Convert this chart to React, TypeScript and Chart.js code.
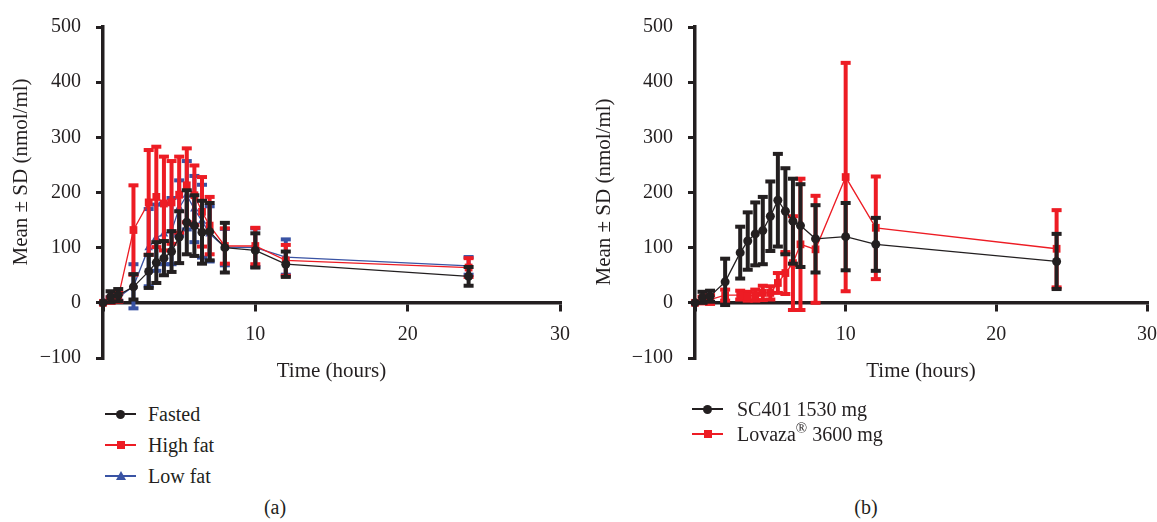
import React, { useEffect, useRef } from "react";
import { Chart, registerables } from "chart.js";

Chart.register(...registerables);

// ---------- data ----------
const TIMES = [0, 0.5, 1, 2, 3, 3.5, 4, 4.5, 5, 5.5, 6, 6.5, 7, 8, 10, 12, 24];

// panel (a)
const FASTED_MEAN = [0, 11, 14, 29, 57, 73, 81, 93, 119, 146, 140, 128, 129, 100, 95, 70, 48];
const FASTED_SD = [0, 10, 11, 23, 30, 37, 31, 37, 47, 58, 55, 57, 52, 45, 31, 23, 17];
const HIGHFAT_MEAN = [0, 5, 10, 132, 182, 192, 180, 182, 196, 213, 195, 165, 140, 103, 103, 77, 64];
const HIGHFAT_SD = [0, 5, 8, 81, 95, 91, 85, 75, 69, 67, 54, 63, 52, 32, 33, 28, 17];
const LOWFAT_MEAN = [0, 6, 10, 30, 100, 118, 125, 130, 172, 195, 170, 148, 125, 101, 100, 83, 67];
const LOWFAT_SD = [0, 4, 6, 40, 70, 60, 55, 60, 50, 62, 60, 66, 50, 33, 35, 32, 16];

// panel (b)
const SC401_MEAN = [0, 10, 12, 38, 91, 112, 125, 131, 157, 186, 166, 148, 140, 116, 120, 106, 75];
const SC401_SD = [0, 10, 10, 42, 47, 52, 57, 61, 63, 84, 78, 77, 75, 61, 61, 48, 50];
const LOVAZA_MEAN = [0, 5, 6, 14, 14, 12, 14, 18, 18, 36, 54, 72, 106, 97, 228, 136, 98];
const LOVAZA_SD = [0, 6, 8, 10, 8, 8, 10, 13, 12, 18, 38, 85, 119, 97, 207, 93, 70];

const SERIES_A = ["Fasted", "High fat", "Low fat"];
const SERIES_B = ["SC401 1530 mg", "Lovaza\u00AE 3600 mg"];

const X_MIN = 0;
const X_MAX = 30;
const X_STEP = 10;
const Y_MIN = -100;
const Y_MAX = 500;
const Y_STEP = 100;

const X_TITLE = "Time (hours)";
const Y_TITLE = "Mean \u00B1 SD (nmol/ml)";

// ---------- styles ----------
const FONT = '"Liberation Serif", "Times New Roman", serif';
const BLACK = "#231f20";
const RED = "#ed1c24";
const BLUE = "#3953a4";

const pts = (xs: number[], ys: number[]) => xs.map((x, i) => ({ x, y: ys[i] }));

const errorBarPlugin = {
  id: "errorBars",
  beforeDatasetDraw(chart: any, args: any) {
    const ds = chart.data.datasets[args.index];
    const sd: number[] | undefined = ds.sd;
    if (!sd) return;
    const yScale = chart.scales.y;
    const ctx = chart.ctx;
    ctx.save();
    ctx.strokeStyle = ds.borderColor;
    ctx.fillStyle = ds.borderColor;
    ctx.lineWidth = 4;
    args.meta.data.forEach((el: any, i: number) => {
      const s = sd[i];
      if (!s) return;
      const v = ds.data[i].y;
      const x = el.x;
      const yt = yScale.getPixelForValue(v + s);
      const yb = yScale.getPixelForValue(v - s);
      ctx.beginPath();
      ctx.moveTo(x, yt);
      ctx.lineTo(x, yb);
      ctx.stroke();
      ctx.fillRect(x - 5, yt - 2, 10, 4);
      ctx.fillRect(x - 5, yb - 2, 10, 4);
    });
    ctx.restore();
  },
};

function makeDataset(label: string, means: number[], sds: number[], color: string, style: string, radius: number) {
  return {
    label,
    data: pts(TIMES, means),
    sd: sds,
    borderColor: color,
    backgroundColor: color,
    pointBackgroundColor: color,
    pointBorderColor: color,
    pointBorderWidth: 0,
    pointStyle: style,
    pointRadius: radius,
    borderWidth: 1.3,
    tension: 0,
    clip: 12,
  };
}

function makeOptions(yAxisWidth: number, padRight: number) {
  const tickFont = { family: FONT, size: 20 };
  return {
    animation: false,
    responsive: false,
    layout: { padding: { left: 0, right: padRight, top: 22, bottom: 42 } },
    plugins: { legend: { display: false }, tooltip: { enabled: false } },
    scales: {
      x: {
        type: "linear",
        min: X_MIN,
        max: X_MAX,
        position: { y: 0 },
        border: { display: true, color: BLACK, width: 3.5 },
        grid: { drawOnChartArea: false, drawTicks: true, tickLength: 7, color: BLACK, lineWidth: 3 },
        ticks: {
          stepSize: X_STEP,
          padding: 13,
          color: BLACK,
          font: tickFont,
          maxRotation: 0,
          autoSkip: false,
          callback: (v: number) => (v === 0 ? "" : String(v)),
        },
        title: {
          display: true,
          text: X_TITLE,
          color: BLACK,
          font: { family: FONT, size: 21 },
          padding: { top: -1, bottom: 0 },
        },
      },
      y: {
        type: "linear",
        min: Y_MIN,
        max: Y_MAX,
        position: "left",
        afterFit: (s: any) => {
          s.width = yAxisWidth;
        },
        border: { display: true, color: BLACK, width: 3.5 },
        grid: { drawOnChartArea: false, drawTicks: true, tickLength: 7, color: BLACK, lineWidth: 3 },
        ticks: {
          stepSize: Y_STEP,
          padding: 15,
          color: BLACK,
          font: tickFont,
          callback: (v: number) => String(v).replace("-", "\u2212"),
        },
        title: { display: false },
      },
    },
  };
}

function ChartPanel(props: { left: number; width: number; yAxisWidth: number; padRight: number; datasets: any[] }) {
  const ref = useRef<HTMLCanvasElement | null>(null);
  useEffect(() => {
    if (!ref.current) return;
    const chart = new Chart(ref.current, {
      type: "line",
      data: { datasets: props.datasets },
      options: makeOptions(props.yAxisWidth, props.padRight) as any,
      plugins: [errorBarPlugin],
    } as any);
    return () => chart.destroy();
  }, []);
  return (
    <div style={{ position: "absolute", left: props.left, top: 0, width: props.width, height: 400 }}>
      <canvas ref={ref} width={props.width} height={400} style={{ width: props.width, height: 400 }} />
    </div>
  );
}

function Marker({ kind, color }: { kind: string; color: string }) {
  if (kind === "circle")
    return <div style={{ position: "absolute", left: 11, top: -4.5, width: 9, height: 9, borderRadius: "50%", background: color }} />;
  if (kind === "rect")
    return <div style={{ position: "absolute", left: 11.5, top: -4, width: 8, height: 8, background: color }} />;
  return (
    <div
      style={{
        position: "absolute",
        left: 10.5,
        top: -5,
        width: 0,
        height: 0,
        borderLeft: "5px solid transparent",
        borderRight: "5px solid transparent",
        borderBottom: `9px solid ${color}`,
      }}
    />
  );
}

function LegendRow(props: { x: number; y: number; textX: number; label: React.ReactNode; color: string; kind: string }) {
  return (
    <>
      <div style={{ position: "absolute", left: props.x, top: props.y, width: 31, height: 0 }}>
        <div style={{ position: "absolute", left: 0, top: -1.25, width: 31, height: 2.5, background: props.color }} />
        <Marker kind={props.kind} color={props.color} />
      </div>
      <div
        style={{
          position: "absolute",
          left: props.textX,
          top: props.y - 13,
          height: 26,
          lineHeight: "26px",
          fontFamily: FONT,
          fontSize: 20,
          color: BLACK,
          whiteSpace: "nowrap",
        }}
      >
        {props.label}
      </div>
    </>
  );
}

function YTitle({ cx, cy }: { cx: number; cy: number }) {
  return (
    <div
      style={{
        position: "absolute",
        left: cx - 150,
        top: cy - 13,
        width: 300,
        height: 26,
        lineHeight: "26px",
        textAlign: "center",
        transform: "rotate(-90deg)",
        fontFamily: FONT,
        fontSize: 21,
        color: BLACK,
        whiteSpace: "nowrap",
      }}
    >
      {Y_TITLE}
    </div>
  );
}

function PanelLabel({ cx, cy, text }: { cx: number; cy: number; text: string }) {
  return (
    <div
      style={{
        position: "absolute",
        left: cx - 30,
        top: cy - 13,
        width: 60,
        height: 26,
        lineHeight: "26px",
        textAlign: "center",
        fontFamily: FONT,
        fontSize: 20,
        color: BLACK,
      }}
    >
      {text}
    </div>
  );
}

export default function App() {
  const datasetsA = [
    makeDataset(SERIES_A[0], FASTED_MEAN, FASTED_SD, BLACK, "circle", 4.5),
    makeDataset(SERIES_A[1], HIGHFAT_MEAN, HIGHFAT_SD, RED, "rect", 5.5),
    makeDataset(SERIES_A[2], LOWFAT_MEAN, LOWFAT_SD, BLUE, "triangle", 5),
  ];
  const datasetsB = [
    makeDataset(SERIES_B[0], SC401_MEAN, SC401_SD, BLACK, "circle", 4.5),
    makeDataset(SERIES_B[1], LOVAZA_MEAN, LOVAZA_SD, RED, "rect", 5.5),
  ];
  const lovazaLabel = (
    <span>
      Lovaza<sup style={{ fontSize: 15, verticalAlign: "baseline", position: "relative", top: -8 }}>{"\u00AE"}</sup> 3600 mg
    </span>
  );
  return (
    <div style={{ position: "fixed", left: 0, top: 0, width: 1157, height: 522, background: "#fff", overflow: "hidden" }}>
      <ChartPanel left={0} width={583} yAxisWidth={103} padRight={21} datasets={datasetsA} />
      <ChartPanel left={585} width={585} yAxisWidth={110} padRight={11} datasets={datasetsB} />
      <YTitle cx={20} cy={172} />
      <YTitle cx={603} cy={192} />
      <LegendRow x={105} y={414} textX={148} label={SERIES_A[0]} color={BLACK} kind="circle" />
      <LegendRow x={105} y={445} textX={148} label={SERIES_A[1]} color={RED} kind="rect" />
      <LegendRow x={105} y={476} textX={148} label={SERIES_A[2]} color={BLUE} kind="triangle" />
      <LegendRow x={692} y={409} textX={737} label={SERIES_B[0]} color={BLACK} kind="circle" />
      <LegendRow x={692} y={434} textX={737} label={lovazaLabel} color={RED} kind="rect" />
      <PanelLabel cx={275} cy={507} text="(a)" />
      <PanelLabel cx={866} cy={507} text="(b)" />
    </div>
  );
}
